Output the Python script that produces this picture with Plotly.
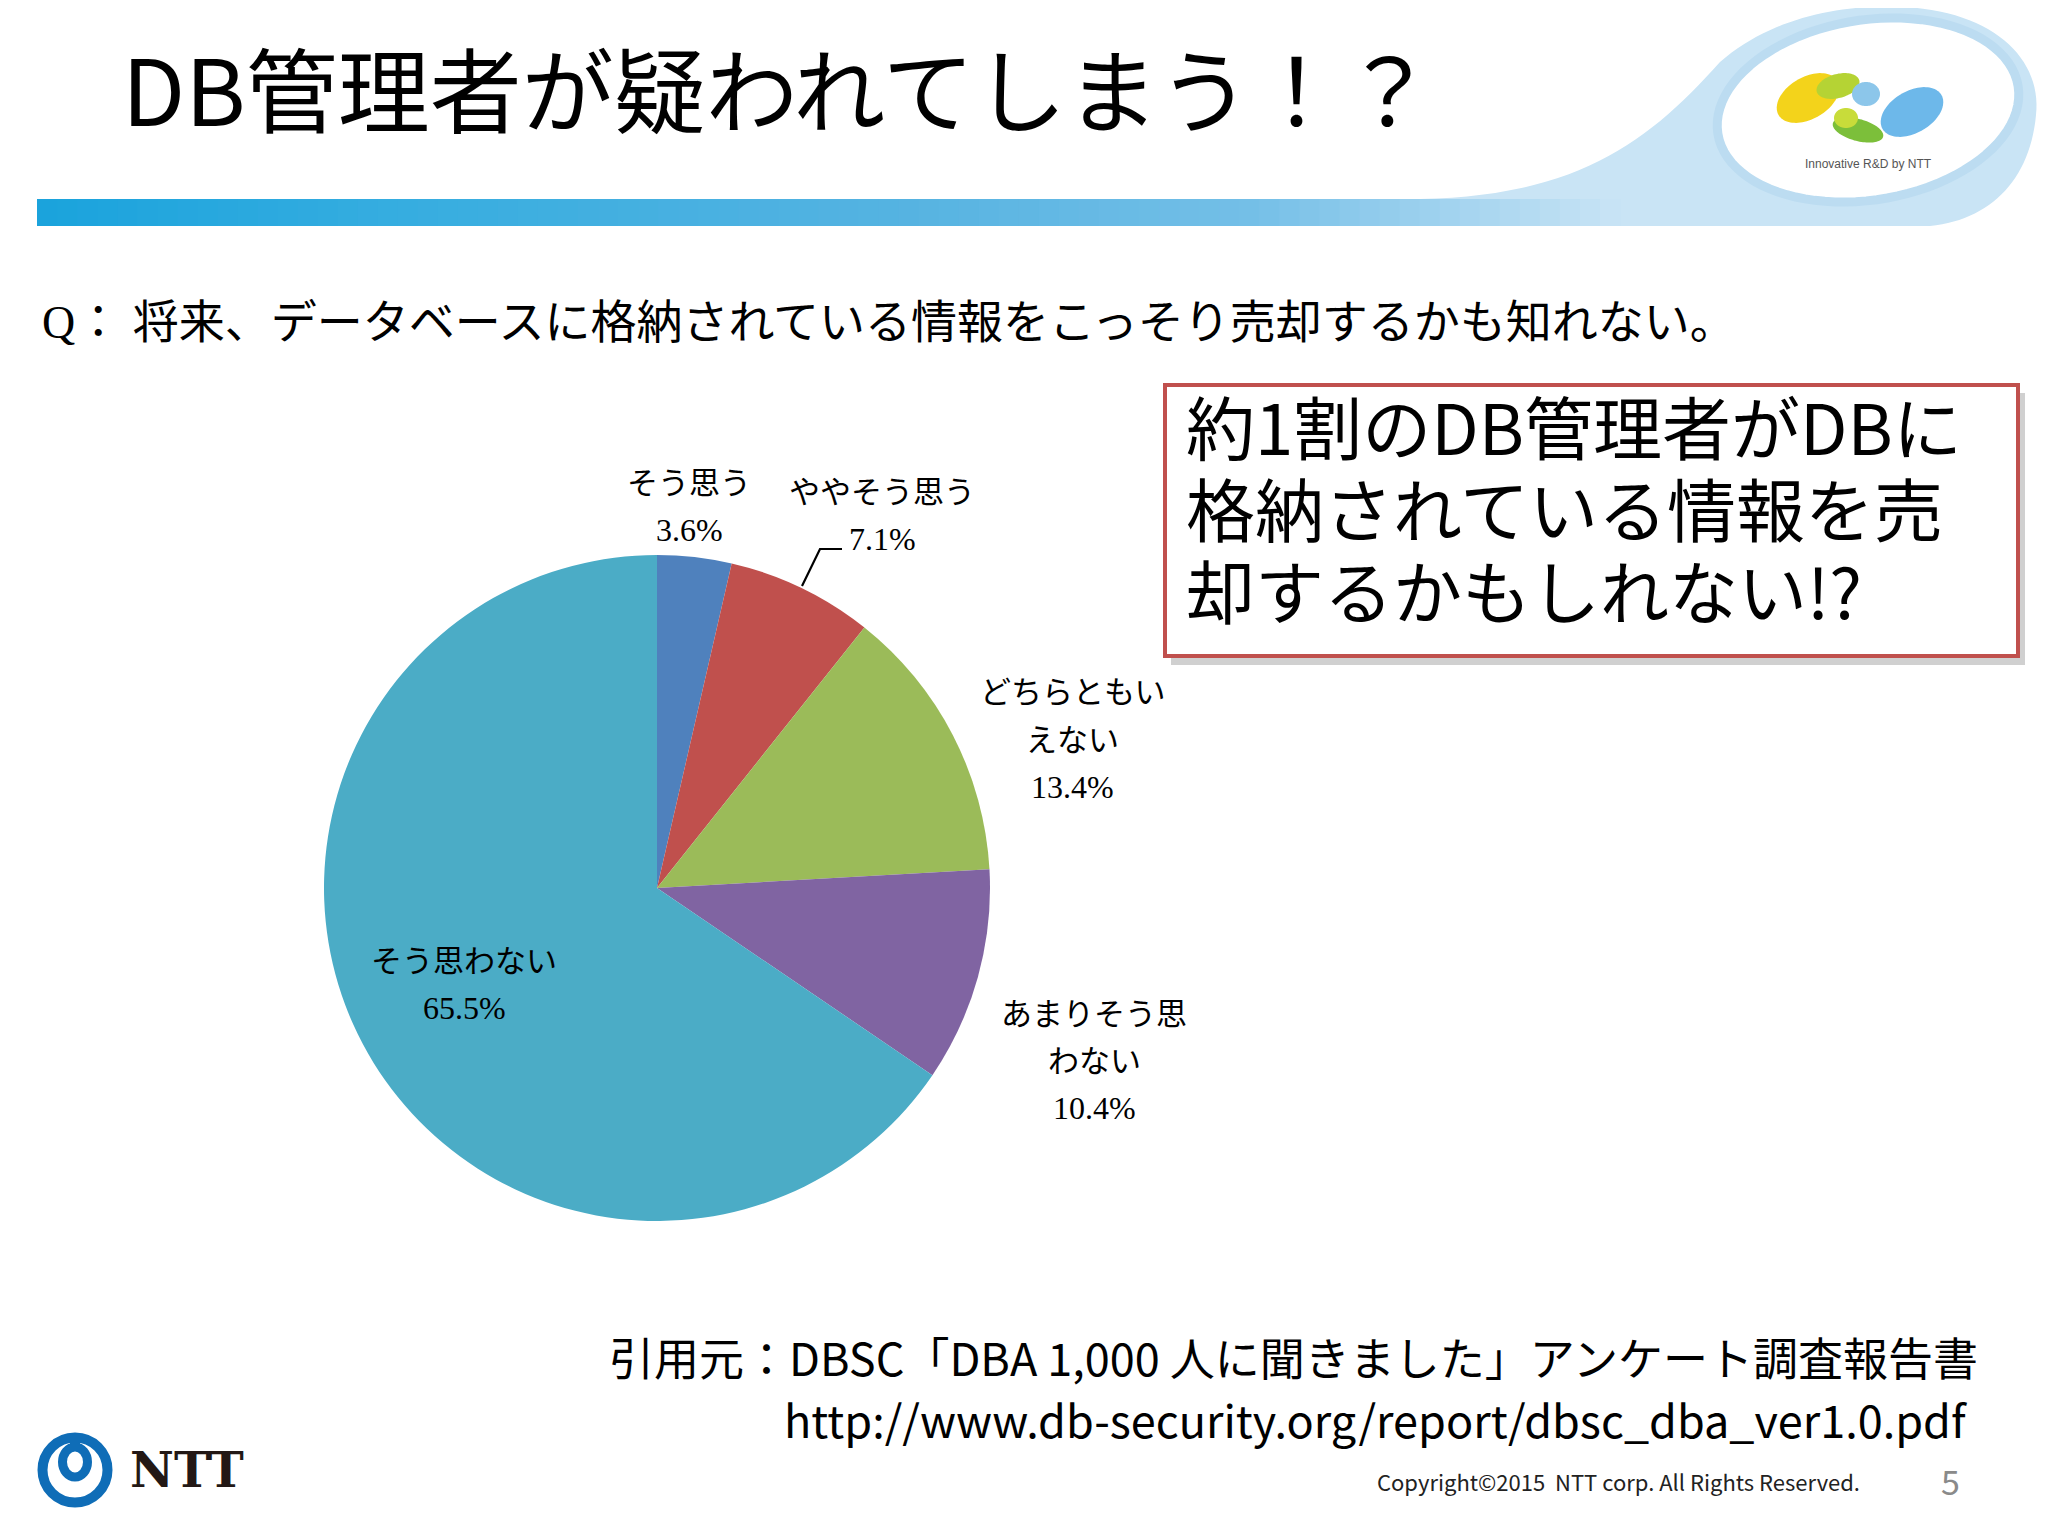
import numpy as np
import plotly.graph_objects as go

W, H = 2048, 1536
OFF = 8                      # page body margin of the browser
FW, FH = W - 2 * OFF, H - 2 * OFF

# ---------------- data ----------------
categories = ["そう思う", "ややそう思う", "どちらともいえない", "あまりそう思わない", "そう思わない"]
values = [3.6, 7.1, 13.4, 10.4, 65.5]
colors = ["#4F81BD", "#C0504D", "#9BBB59", "#8064A2", "#4BACC6"]
# how each category label wraps on the slide
label_lines = [["そう思う"], ["ややそう思う"], ["どちらともい", "えない"], ["あまりそう思", "わない"], ["そう思わない"]]

title_text = "DB管理者が疑われてしまう！？"
question_text = "Q： 将来、データベースに格納されている情報をこっそり売却するかも知れない。"
callout_lines = ["約1割のDB管理者がDBに", "格納されている情報を売", "却するかもしれない!?"]
source_line = "引用元：DBSC「DBA 1,000 人に聞きました」アンケート調査報告書"
url_line = "http://www.db-security.org/report/dbsc_dba_ver1.0.pdf"
copyright_text = "Copyright©2015  NTT corp. All Rights Reserved."
page_no = "5"

# ---------------- helpers (screen pixel -> paper) ----------------
def X(px):
    return (px - OFF) / FW

def Y(py):
    return 1 - (py - OFF) / FH

SANS = "Noto Sans CJK JP, Noto Sans, sans-serif"
SERIF = "Liberation Serif, Noto Sans CJK JP, serif"

annotations = []
shapes = []

def ann(text, x, y, size, family, color="black", xanchor="center", yanchor="middle", align="center"):
    annotations.append(dict(text=text, x=X(x), y=Y(y), xref="paper", yref="paper",
                            showarrow=False, xanchor=xanchor, yanchor=yanchor, align=align,
                            font=dict(size=size, family=family, color=color)))

def rect(x0, y0, x1, y1, fill, line_color=None, lw=0, layer="below"):
    shapes.append(dict(type="rect", xref="paper", yref="paper",
                       x0=X(x0), x1=X(x1), y0=Y(y1), y1=Y(y0),
                       fillcolor=fill, line=dict(color=line_color or fill, width=lw), layer=layer))

def pathpx(pts, fill, line_color=None, lw=0, closed=True, layer="below"):
    d = "M " + " L ".join(f"{X(px):.5f},{Y(py):.5f}" for px, py in pts)
    if closed:
        d += " Z"
    shapes.append(dict(type="path", xref="paper", yref="paper", path=d,
                       fillcolor=fill if closed else "rgba(0,0,0,0)",
                       line=dict(color=line_color or "rgba(0,0,0,0)", width=lw), layer=layer))

def ellipse_pts(cx, cy, rx, ry, rot_deg=0, n=90):
    t = np.linspace(0, 2 * np.pi, n, endpoint=False)
    r = np.radians(rot_deg)
    xs = rx * np.cos(t)
    ys = ry * np.sin(t)
    return [(cx + x * np.cos(r) - y * np.sin(r), cy + x * np.sin(r) + y * np.cos(r)) for x, y in zip(xs, ys)]

def bezier(p0, p1, p2, p3, n=30):
    t = np.linspace(0, 1, n)
    pts = []
    for s in t:
        a = (1 - s) ** 3
        b = 3 * (1 - s) ** 2 * s
        c = 3 * (1 - s) * s ** 2
        d = s ** 3
        pts.append((a * p0[0] + b * p1[0] + c * p2[0] + d * p3[0],
                    a * p0[1] + b * p1[1] + c * p2[1] + d * p3[1]))
    return pts

def hexmix(c1, c2, t):
    a = [int(c1[i:i + 2], 16) for i in (1, 3, 5)]
    b = [int(c2[i:i + 2], 16) for i in (1, 3, 5)]
    return "#" + "".join(f"{int(round(a[k] + (b[k] - a[k]) * t)):02x}" for k in range(3))

# ---------------- header decoration ----------------
sw = [(1420, 199)]
sw += bezier((1420, 199), (1580, 196), (1650, 140), (1720, 62))
sw += bezier((1720, 62), (1775, 14), (1850, 4), (1905, 7))
sw += bezier((1905, 7), (1995, 12), (2042, 60), (2036, 115))
sw += bezier((2036, 115), (2030, 180), (1990, 220), (1930, 226))
sw += [(1420, 226)]
pathpx(sw, "#c9e4f5")

stops = [(37, "#1aa3dc"), (400, "#36ade0"), (900, "#55b3e1"), (1250, "#74bfe7"),
         (1480, "#a9d6f0"), (1620, "#c9e4f5")]
xs_edges = np.linspace(37, 1620, 80)
for i in range(len(xs_edges) - 1):
    xm = (xs_edges[i] + xs_edges[i + 1]) / 2
    for j in range(len(stops) - 1):
        if stops[j][0] <= xm <= stops[j + 1][0]:
            t = (xm - stops[j][0]) / (stops[j + 1][0] - stops[j][0])
            col = hexmix(stops[j][1], stops[j + 1][1], t)
            break
    rect(xs_edges[i], 199, xs_edges[i + 1] + 1, 226, col)

# logo ellipse and swirl (approximation)
pathpx(ellipse_pts(1868, 110, 152, 90, -9), "#ffffff", "#bcdcf1", 9)
pathpx(ellipse_pts(1808, 98, 34, 21, -30), "#f3d31b")
pathpx(ellipse_pts(1838, 86, 22, 12, -15), "#b5d334")
pathpx(ellipse_pts(1866, 94, 14, 12, 0), "#8cc6ea")
pathpx(ellipse_pts(1858, 130, 26, 11, 15), "#7cbf3a")
pathpx(ellipse_pts(1846, 118, 12, 10, 0), "#c8dc3a")
pathpx(ellipse_pts(1912, 112, 34, 21, -30), "#6db8ea")
ann("Innovative R&D by NTT", 1868, 164, 12, "Liberation Sans, sans-serif", "#555555")

# title
ann(title_text, 120, 86, 92, SANS, "black", xanchor="left")

# question
ann(question_text, 40, 322, 46, SERIF, "black", xanchor="left")

# call-out box
rect(1171, 393, 2025, 665, "rgba(120,120,120,0.35)")
rect(1165, 385, 2018, 656, "#ffffff", "#C0504D", 4)
for k, line in enumerate(callout_lines):
    ann(line, 1184, 425 + k * 82, 69, SANS, "black", xanchor="left", align="left")

# ---------------- pie ----------------
cx, cy, R = 657, 888, 333
pie = go.Pie(labels=categories, values=values, sort=False, direction="clockwise", rotation=0,
             marker=dict(colors=colors, line=dict(width=0)), textinfo="none",
             hoverinfo="label+percent", showlegend=False,
             domain=dict(x=[X(cx - R), X(cx + R)], y=[Y(cy + R), Y(cy - R)]))

label_pos = [(689, 483), (882, 492), (1072, 693), (1094, 1014), (464, 961)]
step = 47
for lines, v, (lx, ly) in zip(label_lines, values, label_pos):
    for k, ln in enumerate(lines):
        ann(ln, lx, ly + k * step, 31, SERIF, "black")
    ann(f"{v}%", lx, ly + len(lines) * step, 32, SERIF, "black")

pathpx([(802, 586), (820, 549), (842, 549)], None, "black", 2.2, closed=False, layer="above")

# ---------------- footer ----------------
ann(source_line, 1980, 1356, 45, SANS, "black", xanchor="right")
ann(url_line, 1970, 1418, 45, SANS, "black", xanchor="right")
ann(copyright_text, 1862, 1481, 22, SANS, "#222222", xanchor="right")
ann(page_no, 1950, 1480, 34, SANS, "#8a8a8a")

# NTT logo
blue = "#0f6db7"
shapes.append(dict(type="circle", xref="paper", yref="paper",
                   x0=X(75 - 32.5), x1=X(75 + 32.5), y0=Y(1470 + 32.5), y1=Y(1470 - 32.5),
                   line=dict(color=blue, width=10), fillcolor="rgba(0,0,0,0)", layer="above"))
shapes.append(dict(type="circle", xref="paper", yref="paper",
                   x0=X(75 - 12.5), x1=X(75 + 12.5), y0=Y(1462 + 15), y1=Y(1462 - 15),
                   line=dict(color=blue, width=9), fillcolor="rgba(0,0,0,0)", layer="above"))
rect(70, 1436, 80, 1450, blue, layer="above")
ann("<b>NTT</b>", 187, 1470, 48, "DejaVu Serif, serif", "#231815")

fig = go.Figure(pie)
fig.update_layout(width=FW, height=FH, margin=dict(l=0, r=0, t=0, b=0),
                  paper_bgcolor="white", plot_bgcolor="white",
                  annotations=annotations, shapes=shapes, showlegend=False)
fig.write_html("out.html")
